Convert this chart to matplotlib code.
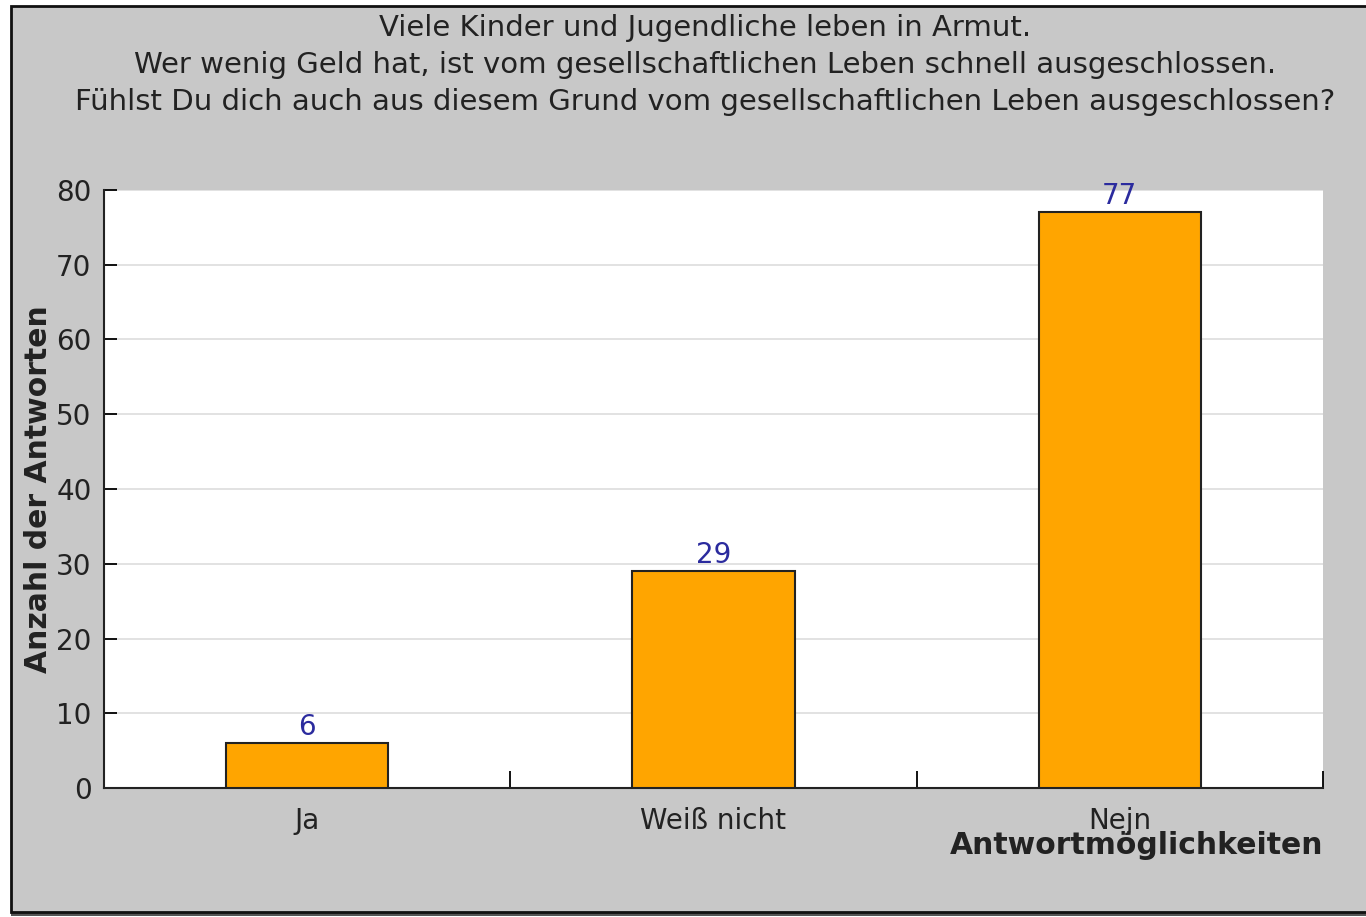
import matplotlib.pyplot as plt
from matplotlib.patches import Rectangle

# data
categories = ['Ja', 'Weiß nicht', 'Nejn']
counts = [6, 29, 77]
title_lines = ['Viele Kinder und Jugendliche leben in Armut.',
               'Wer wenig Geld hat, ist vom gesellschaftlichen Leben schnell ausgeschlossen.',
               'Fühlst Du dich auch aus diesem Grund vom gesellschaftlichen Leben ausgeschlossen?']
y_ticks = [0, 10, 20, 30, 40, 50, 60, 70, 80]

W, H = 1366, 917
plt.rcParams['font.family'] = ['DejaVu Sans']
FS = 20

fig = plt.figure(figsize=(W / 100, H / 100), dpi=100)
fig.patch.set_facecolor('white')

# gray frame with dark border, drawn behind the axes
fig.patches.append(Rectangle((11 / W, 1 - 916 / H), 1.0, 4 / H, transform=fig.transFigure,
                             facecolor='#555555', edgecolor='none', zorder=-3))
fig.patches.append(Rectangle((11 / W, 1 - 912 / H), (W - 11) / W + 0.01, (912 - 6) / H,
                             transform=fig.transFigure, facecolor='#c8c8c8',
                             edgecolor='#111111', linewidth=2, zorder=-2))

ax = fig.add_axes([104 / W, 1 - 788 / H, (1323 - 104) / W, (788 - 190) / H])
ax.set_facecolor('white')

x = list(range(len(categories)))
ax.bar(x, counts, width=0.4, color='#ffa500', edgecolor='#222222', linewidth=1.5, zorder=3)
for xi, v in zip(x, counts):
    ax.text(xi, v + 0.3, str(v), ha='center', va='bottom', color='#2b2b9e', fontsize=FS, zorder=4)

ax.set_xlim(-0.5, 2.5)
ax.set_ylim(0, 80)
ax.set_yticks(y_ticks)
ax.set_xticks(x)
ax.set_xticklabels(categories, fontsize=FS, color='#222222')
ax.tick_params(axis='x', length=0, pad=14)
ax.tick_params(axis='y', direction='in', length=9, width=1.3, labelsize=FS,
               labelcolor='#222222', pad=9)
# category boundary ticks on the x axis
ax.set_xticks([0.5, 1.5, 2.5], minor=True)
ax.tick_params(axis='x', which='minor', direction='in', length=12, width=1.3)

ax.grid(axis='y', color='#dddddd', linewidth=1.2, zorder=0)
ax.set_axisbelow(True)
for s in ['top', 'right']:
    ax.spines[s].set_visible(False)
for s in ['left', 'bottom']:
    ax.spines[s].set_linewidth(1.5)
    ax.spines[s].set_color('#222222')

ax.set_ylabel('Anzahl der Antworten', fontsize=21.5, fontweight='bold', color='#222222')
ax.yaxis.set_label_coords(-0.042, 0.5)
fig.text(1323 / W, 1 - 845 / H, 'Antwortmöglichkeiten', ha='right', va='center',
         fontsize=21.5, fontweight='bold', color='#222222')

for i, line in enumerate(title_lines):
    fig.text(705 / W, 1 - (36 + 37 * i) / H, line, ha='center', va='baseline',
             fontsize=21, color='#222222')

fig.savefig('out.png', dpi=100, facecolor=fig.get_facecolor())
